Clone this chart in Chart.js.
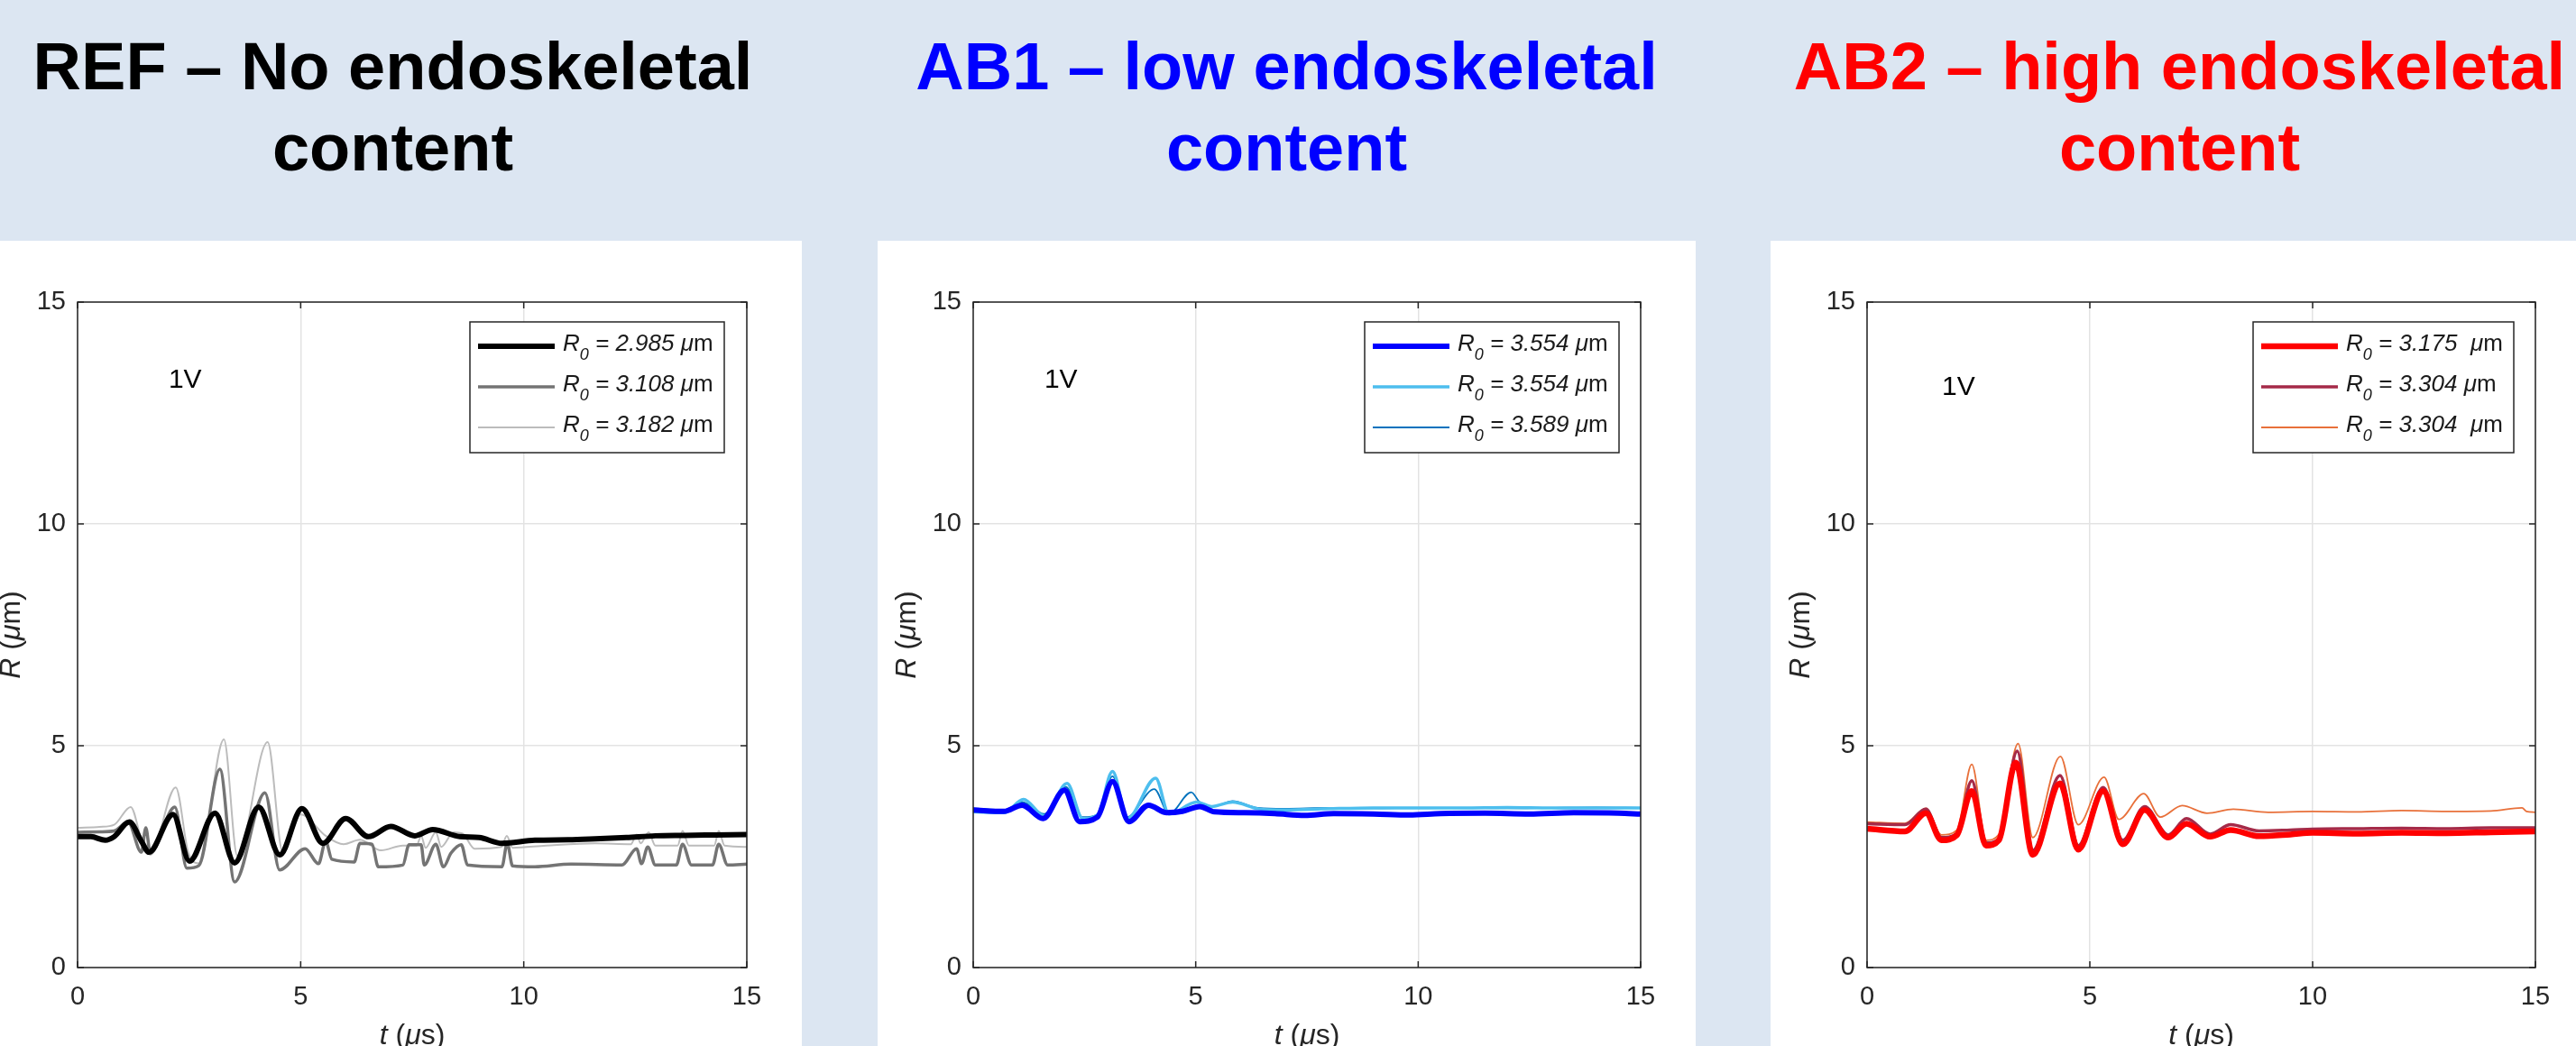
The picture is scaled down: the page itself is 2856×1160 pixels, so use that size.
<!DOCTYPE html>
<html>
<head>
<meta charset="utf-8">
<script src="https://cdn.jsdelivr.net/npm/chart.js@4.4.1/dist/chart.umd.min.js"></script>
<style>
html, body { margin: 0; padding: 0; }
body { width: 2856px; height: 1160px; overflow: hidden; position: relative; background: #dce6f2; font-family: "Liberation Sans", Arial, sans-serif; }
.title { position: absolute; top: 29px; width: 907px; text-align: center; font-weight: bold; font-size: 74px; line-height: 90px; white-space: nowrap; }
.panel { position: absolute; top: 267px; width: 907px; height: 893px; background: #fff; overflow: hidden; }
.panel canvas { display: block; }
</style>
</head>
<body>
<div class="title" style="left:-18px;color:#000">REF – No endoskeletal<br>content</div>
<div class="title" style="left:973px;color:#0000ff">AB1 – low endoskeletal<br>content</div>
<div class="title" style="left:1963px;color:#ff0000">AB2 – high endoskeletal<br>content</div>
<div class="panel" style="left:-18px"><canvas id="c0" width="907" height="920"></canvas></div>
<div class="panel" style="left:973px"><canvas id="c1" width="907" height="920"></canvas></div>
<div class="panel" style="left:1963px"><canvas id="c2" width="907" height="920"></canvas></div>
<script>
// axis ticks (both axes 0..15)
const tickVals = [0, 5, 10, 15];

// REF panel, R (um) vs t (us)
const refT0 = [0, 0.3, 0.62, 0.82, 1.16, 1.43, 1.6, 2.14, 2.51, 3.08, 3.52, 4.06, 4.53, 5.03, 5.5, 6.01, 6.52, 7.02, 7.56, 7.96, 8.57, 9.0, 9.51, 10.25, 11.0, 11.6, 12.3, 12.95, 13.6, 14.3, 15];
const refR0 = [2.95, 2.95, 2.87, 2.95, 3.28, 2.85, 2.6, 3.45, 2.40, 3.48, 2.36, 3.62, 2.54, 3.58, 2.8, 3.36, 2.95, 3.18, 2.97, 3.11, 2.95, 2.93, 2.8, 2.87, 2.88, 2.9, 2.93, 2.97, 2.98, 2.99, 3.0];
const refT1 = [0, 0.5, 0.82, 1.13, 1.43, 1.53, 1.63, 2.18, 2.45, 2.72, 3.19, 3.52, 4.2, 4.53, 5.1, 5.4, 5.56, 5.7, 6.2, 6.33, 6.6, 6.74, 7.29, 7.43, 7.7, 7.77, 8.03, 8.2, 8.37, 8.6, 8.74, 9.51, 9.63, 9.75, 10.25, 11.06, 12.2, 12.53, 12.64, 12.78, 12.95, 13.42, 13.56, 13.76, 14.23, 14.37, 14.57, 15];
const refR1 = [3.05, 3.06, 3.08, 3.28, 2.6, 3.15, 2.58, 3.62, 2.24, 2.3, 4.47, 1.93, 3.94, 2.2, 2.68, 2.34, 2.85, 2.44, 2.38, 2.8, 2.78, 2.27, 2.31, 2.77, 2.77, 2.31, 2.78, 2.27, 2.58, 2.77, 2.31, 2.27, 2.8, 2.29, 2.27, 2.33, 2.31, 2.68, 2.34, 2.72, 2.31, 2.31, 2.78, 2.31, 2.31, 2.78, 2.31, 2.33];
const refT2 = [0, 0.5, 0.82, 1.19, 1.46, 1.63, 2.2, 2.48, 2.72, 3.28, 3.58, 4.26, 4.6, 5.0, 5.56, 5.96, 6.33, 6.8, 7.29, 7.6, 7.7, 7.8, 8.03, 8.15, 8.43, 8.63, 8.9, 9.5, 9.62, 9.75, 10.5, 11.6, 12.4, 12.53, 12.62, 12.8, 12.95, 13.45, 13.56, 13.7, 14.27, 14.37, 14.5, 15];
const refR2 = [3.15, 3.17, 3.22, 3.62, 2.78, 2.54, 4.06, 2.6, 2.35, 5.14, 2.52, 5.08, 2.6, 3.45, 2.97, 2.78, 2.88, 2.64, 2.75, 2.75, 2.97, 2.7, 3.05, 2.72, 3.05, 3.02, 2.68, 2.72, 2.97, 2.7, 2.75, 2.8, 2.78, 3.0, 2.8, 3.05, 2.75, 2.75, 3.08, 2.75, 2.75, 3.08, 2.75, 2.72];
const refR0Labels = ['2.985', '3.108', '3.182'];

// AB1 panel
const ab1T0 = [0, 0.69, 1.1, 1.57, 2.05, 2.39, 2.79, 3.13, 3.5, 3.94, 4.35, 4.7, 5.09, 5.42, 6.1, 6.78, 7.45, 8.1, 9.0, 9.8, 10.5, 11.5, 12.5, 13.5, 14.5, 15];
const ab1R0 = [3.55, 3.52, 3.66, 3.36, 4.0, 3.29, 3.39, 4.19, 3.29, 3.66, 3.49, 3.52, 3.63, 3.51, 3.49, 3.47, 3.43, 3.47, 3.46, 3.44, 3.47, 3.48, 3.46, 3.49, 3.48, 3.46];
const ab1T1 = [0, 0.69, 1.13, 1.6, 2.11, 2.46, 2.8, 3.13, 3.47, 4.1, 4.4, 5.02, 5.36, 5.83, 6.4, 7.0, 8, 9, 10, 11, 12, 13, 14, 15];
const ab1R1 = [3.51, 3.49, 3.79, 3.42, 4.15, 3.36, 3.45, 4.42, 3.36, 4.27, 3.46, 3.73, 3.63, 3.73, 3.58, 3.55, 3.58, 3.6, 3.6, 3.6, 3.61, 3.6, 3.6, 3.6];
const ab1T2 = [0, 0.69, 1.1, 1.6, 2.08, 2.46, 2.8, 3.13, 3.45, 4.07, 4.4, 4.9, 5.09, 5.4, 5.83, 6.4, 7, 8, 9, 10, 11, 12, 13, 14, 15];
const ab1R2 = [3.59, 3.55, 3.73, 3.46, 4.07, 3.39, 3.45, 4.31, 3.39, 4.02, 3.46, 3.95, 3.73, 3.63, 3.75, 3.6, 3.58, 3.6, 3.59, 3.6, 3.6, 3.59, 3.6, 3.61, 3.6];
const ab1R0Labels = ['3.554', '3.554', '3.589'];

// AB2 panel
const ab2T0 = [0, 0.85, 1.32, 1.67, 2.02, 2.35, 2.67, 2.96, 3.34, 3.72, 4.33, 4.74, 5.3, 5.74, 6.23, 6.76, 7.17, 7.7, 8.16, 8.8, 9.5, 10, 11, 12, 13, 14, 15];
const ab2R0 = [3.13, 3.07, 3.48, 2.87, 2.99, 3.98, 2.75, 2.87, 4.62, 2.54, 4.15, 2.66, 3.98, 2.78, 3.55, 2.93, 3.24, 2.95, 3.1, 2.96, 3.0, 3.04, 3.02, 3.04, 3.03, 3.05, 3.07];
const ab2T1 = [0, 0.85, 1.32, 1.67, 2.02, 2.35, 2.67, 2.96, 3.37, 3.72, 4.33, 4.74, 5.3, 5.74, 6.23, 6.76, 7.17, 7.7, 8.16, 8.8, 9.5, 10, 11, 12, 13, 14, 15];
const ab2R1 = [3.24, 3.22, 3.57, 2.93, 3.02, 4.21, 2.81, 2.9, 4.88, 2.64, 4.33, 2.75, 4.06, 2.87, 3.63, 2.99, 3.36, 3.01, 3.22, 3.08, 3.1, 3.12, 3.13, 3.14, 3.13, 3.15, 3.15];
const ab2T2 = [0, 0.85, 1.32, 1.67, 2.02, 2.35, 2.67, 2.96, 3.39, 3.72, 4.34, 4.74, 5.32, 5.65, 6.21, 6.58, 7.07, 7.63, 8.22, 9, 10, 11, 12, 13, 14, 14.7, 14.8, 15];
const ab2R2 = [3.28, 3.25, 3.59, 2.99, 3.1, 4.58, 2.87, 3.0, 5.05, 2.93, 4.76, 3.22, 4.29, 3.34, 3.92, 3.39, 3.65, 3.48, 3.57, 3.5, 3.52, 3.51, 3.54, 3.52, 3.53, 3.6, 3.52, 3.5];
const ab2R0Labels = ['3.175 ', '3.304', '3.304 '];

const FONT = '"Liberation Sans", Arial, Helvetica, sans-serif';
const AXIS = '#262626';

const panels = [
    { id: 'c0', series: [[refT0, refR0], [refT1, refR1], [refT2, refR2]], labels: refR0Labels,
      colors: ['#000000', '#747474', '#bcbcbc'], widths: [6, 3.5, 2],
      yw: 104, rp: 61, legX: 435, legW: 282, vx: 2.04, vy: 13.23 },
    { id: 'c1', series: [[ab1T0, ab1R0], [ab1T1, ab1R1], [ab1T2, ab1R2]], labels: ab1R0Labels,
      colors: ['#0000ff', '#4dbeee', '#0072bd'], widths: [6, 3.5, 1.8],
      yw: 106, rp: 61, legX: 434, legW: 282, vx: 1.6, vy: 13.23 },
    { id: 'c2', series: [[ab2T0, ab2R0], [ab2T1, ab2R1], [ab2T2, ab2R2]], labels: ab2R0Labels,
      colors: ['#ff0000', '#a52a48', '#e8703a'], widths: [6.5, 3.5, 1.8],
      yw: 107, rp: 59, legX: 428, legW: 289, vx: 1.68, vy: 13.07 }
];

function runFont(r) {
    return (r.it ? 'italic ' : '') + r.size + 'px ' + FONT;
}
function runsWidth(ctx, runs) {
    let w = 0;
    for (const r of runs) { ctx.font = runFont(r); w += ctx.measureText(r.t).width; }
    return w;
}
function drawRuns(ctx, runs, x, y) {
    for (const r of runs) {
        ctx.font = runFont(r);
        ctx.fillText(r.t, x, y + (r.dy || 0));
        x += ctx.measureText(r.t).width;
    }
}

// box, inward ticks, legend, axis titles, "1V"
const decorPlugin = {
    id: 'decor',
    afterDatasetsDraw(chart, args, opts) {
        const p = opts.panel;
        const ctx = chart.ctx;
        const ca = chart.chartArea;
        const xs = chart.scales.x, ys = chart.scales.y;
        ctx.save();
        ctx.strokeStyle = AXIS;
        ctx.lineWidth = 1.5;
        ctx.strokeRect(ca.left, ca.top, ca.right - ca.left, ca.bottom - ca.top);
        ctx.beginPath();
        for (const v of tickVals) {
            const px = xs.getPixelForValue(v), py = ys.getPixelForValue(v);
            ctx.moveTo(px, ca.bottom); ctx.lineTo(px, ca.bottom - 7);
            ctx.moveTo(px, ca.top); ctx.lineTo(px, ca.top + 7);
            ctx.moveTo(ca.left, py); ctx.lineTo(ca.left + 7, py);
            ctx.moveTo(ca.right, py); ctx.lineTo(ca.right - 7, py);
        }
        ctx.stroke();

        // legend
        const bx = ca.left + p.legX, by = ca.top + 22;
        ctx.fillStyle = '#fff';
        ctx.fillRect(bx, by, p.legW, 145);
        ctx.lineWidth = 1.5;
        ctx.strokeStyle = AXIS;
        ctx.strokeRect(bx, by, p.legW, 145);
        ctx.textBaseline = 'alphabetic';
        ctx.textAlign = 'left';
        p.labels.forEach((lab, i) => {
            const ly = by + 27 + i * 45;
            ctx.strokeStyle = p.colors[i];
            ctx.lineWidth = p.widths[i];
            ctx.beginPath();
            ctx.moveTo(bx + 9, ly);
            ctx.lineTo(bx + 94, ly);
            ctx.stroke();
            ctx.fillStyle = '#1a1a1a';
            drawRuns(ctx, [
                { t: 'R', it: 1, size: 26 },
                { t: '0', it: 1, size: 18, dy: 10 },
                { t: ' = ' + lab + ' ', it: 1, size: 26 },
                { t: 'μ', it: 1, size: 26 },
                { t: 'm', size: 26 }
            ], bx + 103, by + 32 + i * 45);
        });

        // voltage note
        ctx.fillStyle = '#000';
        ctx.font = '30px ' + FONT;
        ctx.textBaseline = 'middle';
        ctx.fillText('1V', xs.getPixelForValue(p.vx), ys.getPixelForValue(p.vy));

        // axis titles
        ctx.fillStyle = AXIS;
        ctx.textBaseline = 'alphabetic';
        const xt = [{ t: 't', it: 1, size: 32 }, { t: ' (', size: 32 }, { t: 'μ', it: 1, size: 32 }, { t: 's)', size: 32 }];
        const xw = runsWidth(ctx, xt);
        drawRuns(ctx, xt, (ca.left + ca.right) / 2 - xw / 2, ca.bottom + 85);
        const yt = [{ t: 'R', it: 1, size: 32 }, { t: ' (', size: 32 }, { t: 'μ', it: 1, size: 32 }, { t: 'm)', size: 32 }];
        const yw = runsWidth(ctx, yt);
        ctx.translate(ca.left - 64, (ca.top + ca.bottom) / 2);
        ctx.rotate(-Math.PI / 2);
        drawRuns(ctx, yt, -yw / 2, 0);
        ctx.restore();
    }
};

panels.forEach(p => {
    const datasets = p.series.map((s, i) => ({
        data: s[0].map((t, k) => ({ x: t, y: s[1][k] })),
        borderColor: p.colors[i],
        borderWidth: p.widths[i],
        pointRadius: 0,
        cubicInterpolationMode: 'monotone',
        fill: false
    }));
    new Chart(document.getElementById(p.id), {
        type: 'line',
        data: { datasets },
        options: {
            responsive: false,
            animation: false,
            devicePixelRatio: 1,
            layout: { padding: { left: 0, right: p.rp, top: 68, bottom: 0 } },
            plugins: {
                legend: { display: false },
                tooltip: { enabled: false },
                decor: { panel: p }
            },
            scales: {
                x: {
                    type: 'linear', min: 0, max: 15,
                    afterBuildTicks: s => { s.ticks = tickVals.map(v => ({ value: v })); },
                    afterFit: s => { s.height = 114; },
                    grid: { color: '#e3e3e3', lineWidth: 1.5, drawTicks: false },
                    border: { display: false },
                    ticks: { padding: 16, color: AXIS, font: { family: FONT, size: 29 }, maxRotation: 0 }
                },
                y: {
                    type: 'linear', min: 0, max: 15,
                    afterBuildTicks: s => { s.ticks = tickVals.map(v => ({ value: v })); },
                    afterFit: s => { s.width = p.yw; },
                    grid: { color: '#e3e3e3', lineWidth: 1.5, drawTicks: false },
                    border: { display: false },
                    ticks: { padding: 13, color: AXIS, font: { family: FONT, size: 29 } }
                }
            }
        },
        plugins: [decorPlugin]
    });
});
</script>
</body>
</html>
